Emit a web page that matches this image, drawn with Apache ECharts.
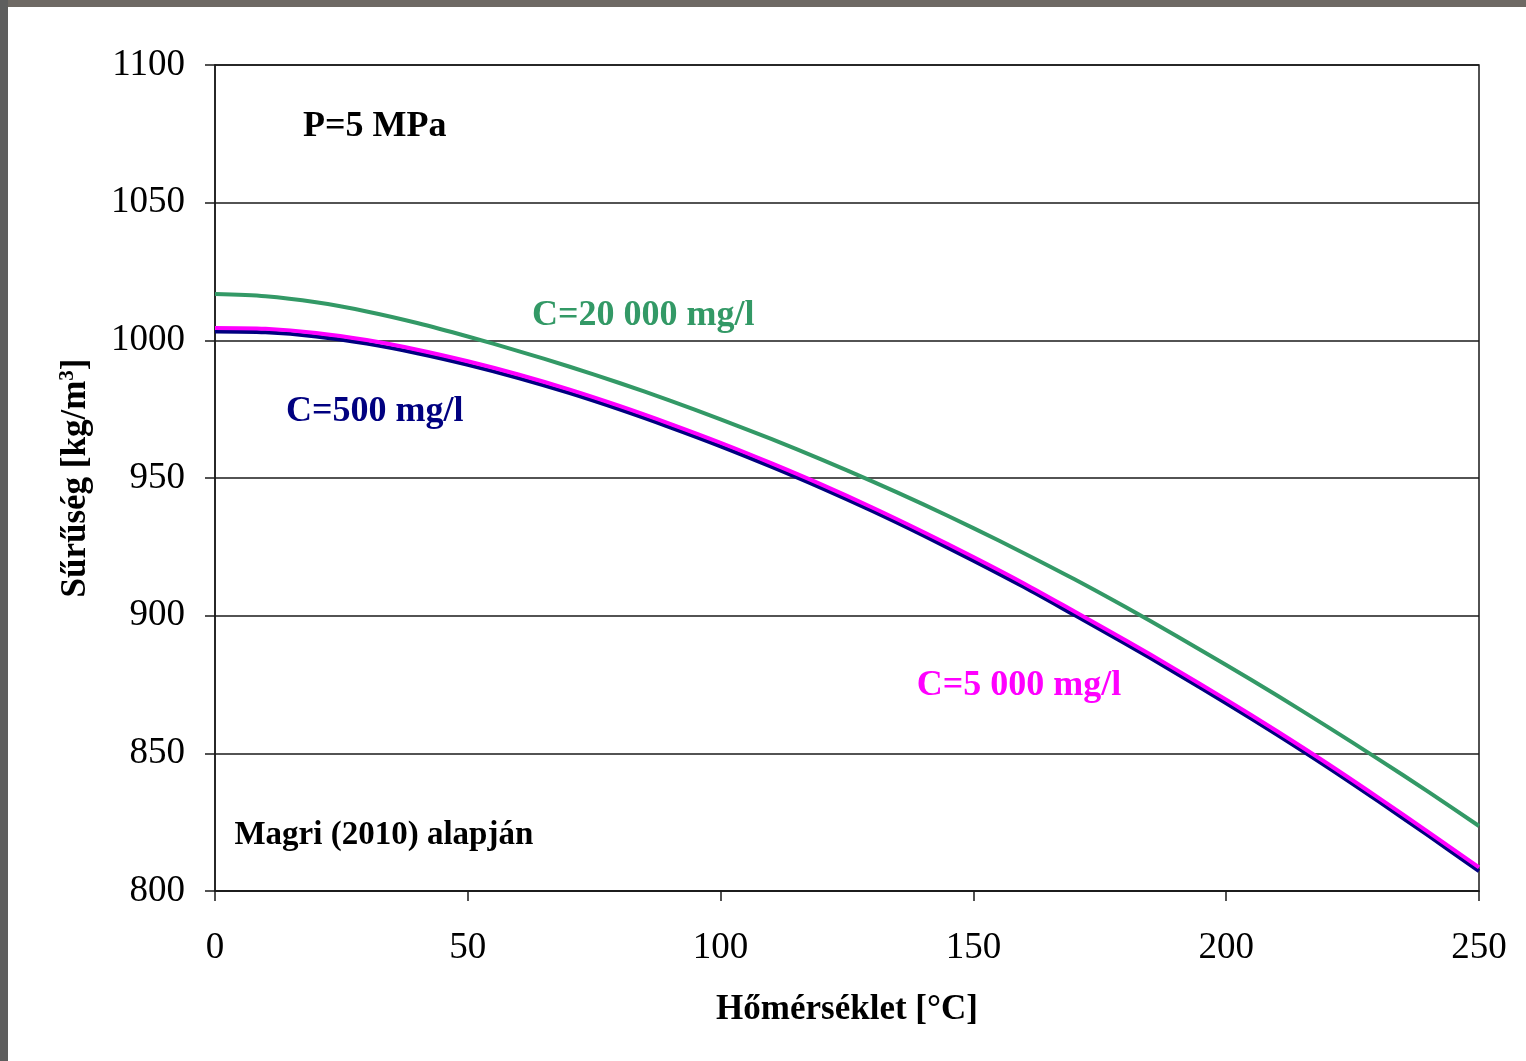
<!DOCTYPE html>
<html>
<head>
<meta charset="utf-8">
<script src="https://cdn.jsdelivr.net/npm/echarts@6/dist/echarts.min.js"></script>
<style>
  html, body { margin: 0; padding: 0; background: #ffffff; }
  #chart { position: absolute; left: 0; top: 0; width: 1526px; height: 1061px; }
  #edgeTop { position: absolute; left: 0; top: 0; width: 1526px; height: 7px; background: #6e6964; z-index: 2; }
  #edgeLeft { position: absolute; left: 0; top: 0; width: 8px; height: 1061px; background: #5e5e5e; z-index: 2; }
</style>
</head>
<body>
<div id="chart"></div>
<div id="edgeTop"></div>
<div id="edgeLeft"></div>
<script>
// Temperature grid, °C
const temperatures = [0, 10, 20, 30, 40, 50, 60, 70, 80, 90, 100, 110, 120, 130, 140, 150, 160, 170, 180, 190, 200, 210, 220, 230, 240, 250];

// Brine density (kg/m³) at P = 5 MPa for three salt concentrations
const density500 = [1003.2, 1002.9, 1001.4, 998.8, 995.3, 991.1, 986.3, 980.9, 974.9, 968.4, 961.5, 954.1, 946.3, 938.0, 929.2, 920.0, 910.4, 900.2, 889.9, 879.2, 868.2, 856.8, 845.0, 832.7, 820.1, 807.2];
const density5000 = [1004.5, 1004.2, 1002.7, 1000.1, 996.6, 992.4, 987.6, 982.2, 976.2, 969.7, 962.8, 955.4, 947.6, 939.3, 930.5, 921.3, 911.7, 901.5, 891.2, 880.5, 869.5, 858.1, 846.3, 834.0, 821.4, 808.6];
const density20000 = [1016.8, 1016.0, 1013.8, 1010.5, 1006.3, 1001.4, 996.1, 990.5, 984.5, 978.1, 971.3, 964.2, 956.7, 948.8, 940.5, 931.8, 922.7, 913.2, 903.2, 892.8, 882.1, 871.1, 859.7, 848.0, 836.0, 823.6];

// Axis ranges and tick step
const xTicks = { min: 0, max: 250, step: 50 };
const yTicks = { min: 800, max: 1100, step: 50 };

// Text notes anchored in data coordinates: [temperature, density, text]
const notes = [
  [31.6, 1077.5, 'P=5 MPa'],
  [33.4, 820.0, 'Magri (2010) alapján'],
  [84.7, 1008.8, 'C=20 000 mg/l'],
  [31.6, 974.0, 'C=500 mg/l'],
  [159.0, 874.5, 'C=5 000 mg/l']
];

const serif = '"Liberation Serif", "Times New Roman", serif';
const ink = '#1a1a1a';

// Look of each note, in the same order as the notes list
const noteLook = [
  { color: '#000000', size: 36 },
  { color: '#000000', size: 33 },
  { color: '#339966', size: 36 },
  { color: '#000080', size: 36 },
  { color: '#ff00ff', size: 36 }
];

function pairs(ys) { return temperatures.map((t, i) => [t, ys[i]]); }

const chart = echarts.init(document.getElementById('chart'), null, { renderer: 'canvas' });

chart.setOption({
  animation: false,
  backgroundColor: '#ffffff',
  grid: {
    left: 215, right: 47, top: 65, bottom: 170,
    show: true, borderColor: ink, borderWidth: 1.5, backgroundColor: 'transparent'
  },
  xAxis: {
    type: 'value', min: xTicks.min, max: xTicks.max, interval: xTicks.step,
    name: 'Hőmérséklet [°C]', nameLocation: 'middle', nameGap: 101,
    nameTextStyle: { fontFamily: serif, fontWeight: 'bold', fontSize: 35, color: '#000' },
    axisLine: { show: true, lineStyle: { color: ink, width: 1.5 } },
    axisTick: { show: true, inside: false, length: 10, lineStyle: { color: ink, width: 1.5 } },
    axisLabel: { fontFamily: serif, fontSize: 37, color: '#000', margin: 39, formatter: v => String(v) },
    splitLine: { show: false }
  },
  yAxis: {
    type: 'value', min: yTicks.min, max: yTicks.max, interval: yTicks.step,
    name: '{a|Sűrűség [kg/m}{s|3}{a|]}', nameLocation: 'middle', nameGap: 121, nameRotate: 90,
    nameTextStyle: {
      fontFamily: serif, fontWeight: 'bold', fontSize: 35, color: '#000',
      rich: {
        a: { fontFamily: serif, fontWeight: 'bold', fontSize: 35, color: '#000' },
        s: { fontFamily: serif, fontWeight: 'bold', fontSize: 21, color: '#000', verticalAlign: 'top', padding: [0, 0, 16, 0] }
      }
    },
    axisLine: { show: true, lineStyle: { color: ink, width: 1.5 } },
    axisTick: { show: true, inside: false, length: 10, lineStyle: { color: ink, width: 1.5 } },
    axisLabel: { fontFamily: serif, fontSize: 37, color: '#000', margin: 30, padding: [5, 0, 0, 0], formatter: v => String(v) },
    splitLine: { show: true, lineStyle: { color: ink, width: 1.5 } }
  },
  series: [
    {
      name: 'C=500 mg/l', type: 'line', data: pairs(density500), smooth: 0.3,
      showSymbol: false, lineStyle: { color: '#000080', width: 4 }, z: 3
    },
    {
      name: 'C=5 000 mg/l', type: 'line', data: pairs(density5000), smooth: 0.3,
      showSymbol: false, lineStyle: { color: '#ff00ff', width: 4 }, z: 4
    },
    {
      name: 'C=20 000 mg/l', type: 'line', data: pairs(density20000), smooth: 0.3,
      showSymbol: false, lineStyle: { color: '#339966', width: 4 }, z: 5,
      markPoint: {
        silent: true, symbol: 'circle', symbolSize: 0, animation: false,
        data: notes.map((n, i) => ({
          coord: [n[0], n[1]],
          label: {
            show: true, position: 'inside', formatter: n[2],
            fontFamily: serif, fontWeight: 'bold', fontSize: noteLook[i].size, color: noteLook[i].color
          }
        }))
      }
    }
  ]
});
</script>
</body>
</html>
